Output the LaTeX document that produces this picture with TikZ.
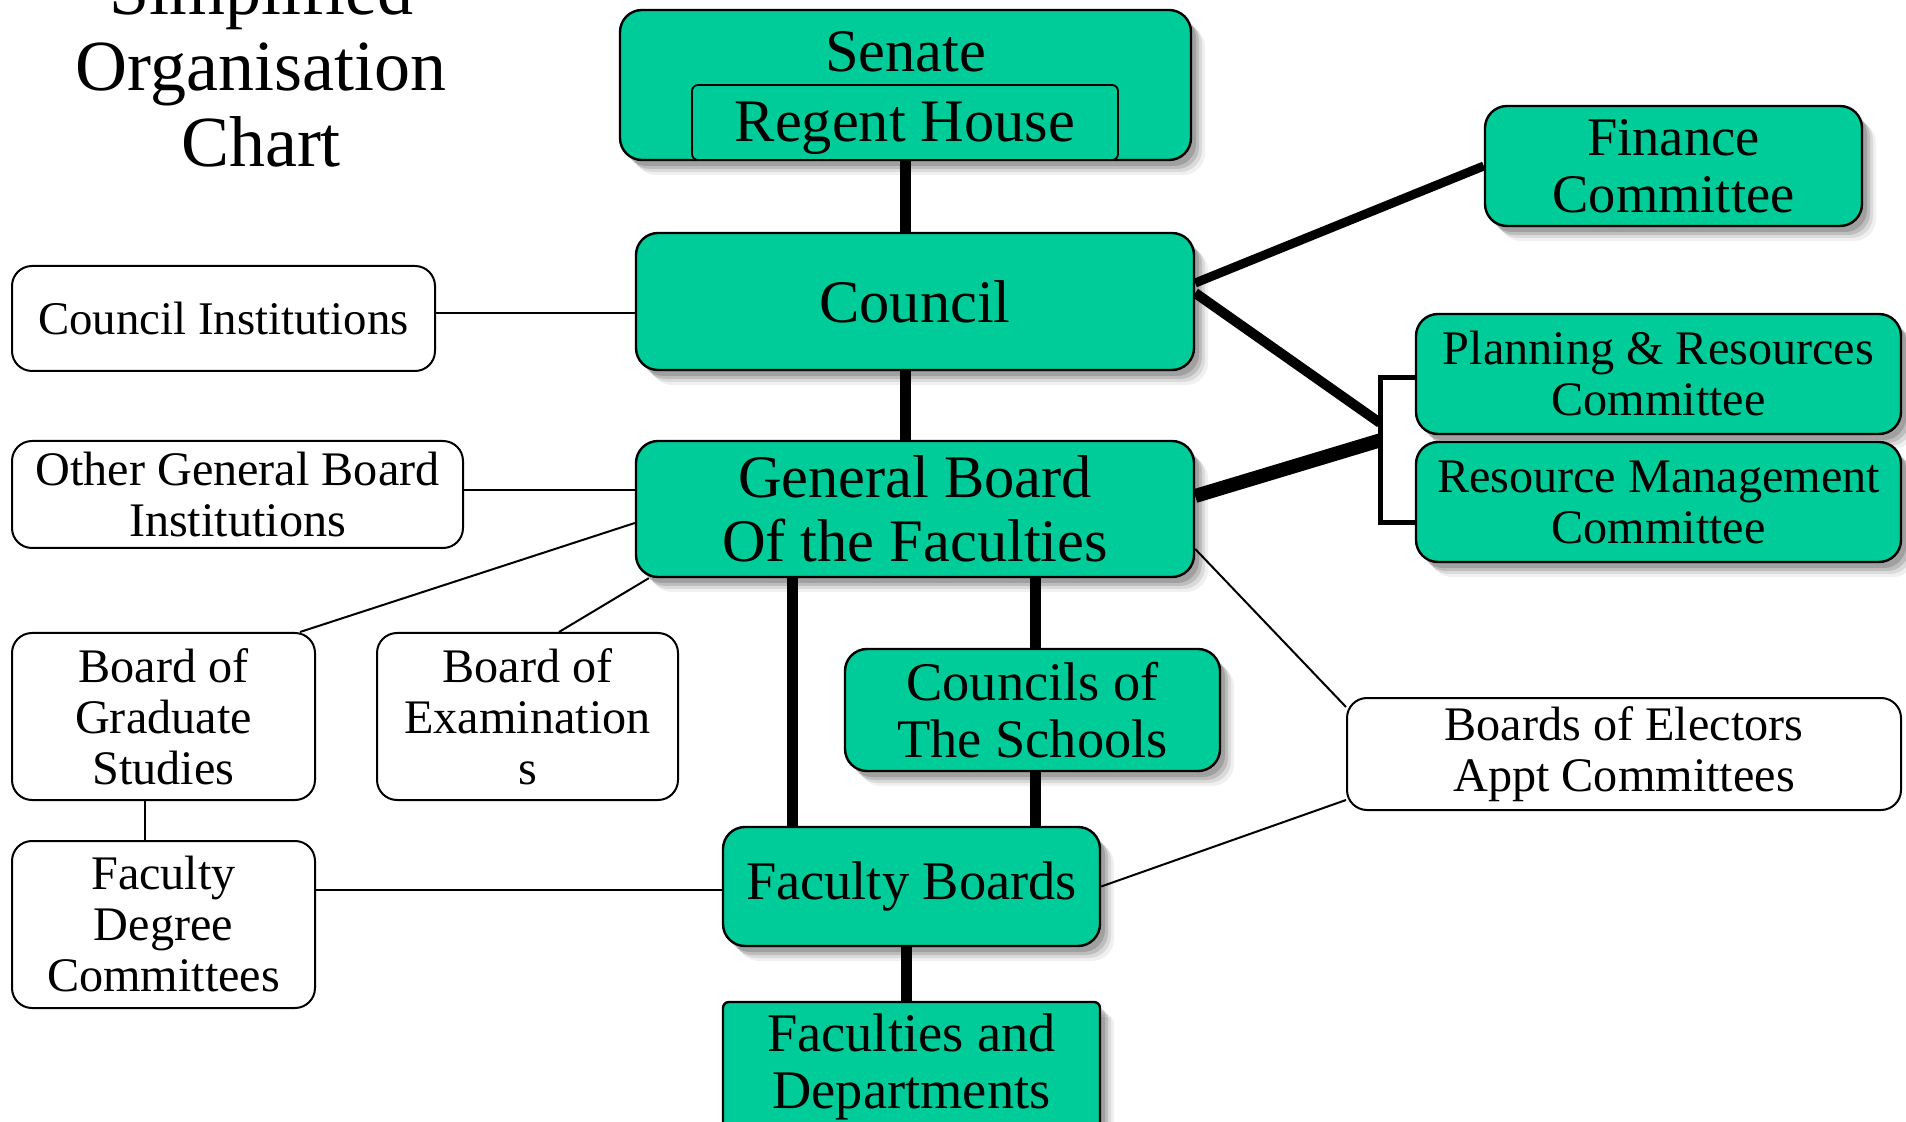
\documentclass[tikz,border=0pt]{standalone}
\usepackage{fontspec}
\setmainfont{Liberation Serif}
\usetikzlibrary{shadows,calc}
\definecolor{boxgreen}{RGB}{0,204,153}
\pgfdeclarelayer{back}
\pgfdeclarelayer{bg}
\pgfsetlayers{back,bg,main}
\newcommand{\myfs}[2]{\fontsize{#1pt}{#2pt}\selectfont}
\tikzset{
  softshadow/.style={
     drop shadow={shadow xshift=2.5pt, shadow yshift=-3pt, fill=black, opacity=.15},
     drop shadow={shadow xshift=4pt, shadow yshift=-4.5pt, fill=black, opacity=.13},
     drop shadow={shadow xshift=5.5pt, shadow yshift=-6pt, fill=black, opacity=.09},
     drop shadow={shadow xshift=7pt, shadow yshift=-7.5pt, fill=black, opacity=.06}},
  gbox/.style={draw=black, line width=1.2pt, fill=boxgreen, rounded corners=11pt, align=center, inner sep=0pt, softshadow},
  wbox/.style={draw=black, line width=1pt, fill=white, rounded corners=10pt, align=center, inner sep=0pt},
  thicklink/.style={line width=5.5pt, line cap=butt},
  thinlink/.style={line width=1pt},
  bigf/.style={font=\myfs{30.2}{32}},
  medf/.style={font=\myfs{27.2}{28.5}},
  smallf/.style={font=\myfs{24.1}{25.5}},
}
\begin{document}
\begin{tikzpicture}[x=0.5pt,y=-0.5pt]
\useasboundingbox (0,0) rectangle (1906,1122);
\begin{pgfonlayer}{back}
\fill[white] (0,0) rectangle (1906,1122);
\end{pgfonlayer}

\node[align=center, inner sep=0pt, anchor=south, font=\myfs{36}{38}] (title) at (261,168) {Simplified\\Organisation\\Chart};

\node[gbox, bigf, minimum width=285.5pt, minimum height=75pt, text height=20pt, text depth=33pt] (senate) at (905.5,85) {Senate};
\node[draw=black, line width=0.9pt, fill=boxgreen, rounded corners=3pt, inner sep=0pt, bigf, minimum width=213pt, minimum height=37.5pt, text height=24pt, text depth=4.5pt] (regent) at (905,122.5) {Regent House};

\node[gbox, bigf, minimum width=279pt, minimum height=68.5pt] (council) at (915,301.5) {Council};
\node[gbox, bigf, minimum width=279pt, minimum height=68pt] (genboard) at (915,509) {General Board\\Of the Faculties};

\node[gbox, medf, minimum width=188.5pt, minimum height=60pt] (finance) at (1673.5,166) {Finance\\Committee};
\node[gbox, smallf, minimum width=242.5pt, minimum height=60pt] (planning) at (1658.5,374) {Planning \& Resources\\Committee};
\node[gbox, smallf, minimum width=242.5pt, minimum height=60pt] (resource) at (1658.5,502) {Resource Management\\Committee};

\node[wbox, font=\myfs{23.4}{25}, minimum width=211.5pt, minimum height=52.5pt] (councilinst) at (223.5,318.5) {Council Institutions};
\node[wbox, smallf, minimum width=225.5pt, minimum height=53.5pt] (othergb) at (237.5,494.5) {Other General Board\\Institutions};
\node[wbox, smallf, minimum width=151.5pt, minimum height=83.5pt] (bgs) at (163.5,716.5) {Board of\\Graduate\\Studies};
\node[wbox, smallf, minimum width=150.5pt, minimum height=83.5pt] (bexam) at (527.5,716.5) {Board of\\Examination\\s};
\node[wbox, smallf, minimum width=151.5pt, minimum height=83.5pt] (fdc) at (163.5,924.5) {Faculty\\Degree\\Committees};
\node[wbox, smallf, minimum width=277pt, minimum height=56pt] (electors) at (1624,754) {Boards of Electors\\Appt Committees};

\node[gbox, medf, minimum width=187.5pt, minimum height=61pt] (councils) at (1032.5,710) {Councils of\\The Schools};
\node[gbox, medf, minimum width=188.5pt, minimum height=59.5pt] (facboards) at (911.5,886.5) {Faculty Boards};
\node[gbox, medf, rounded corners=3pt, minimum width=188.5pt, minimum height=65pt] (facdepts) at (911.5,1067) {Faculties and\\Departments};

\begin{pgfonlayer}{bg}
\draw[thicklink] (senate.south) -- (senate.south |- council.north);
\draw[thicklink] (council.south -| senate.south) -- (genboard.north -| senate.south);
\draw[thicklink, line width=4.5pt] (council.east |- 0,283) -- (finance.west);
\coordinate (brtop) at (1380,378);
\coordinate (brbot) at (1380,523);
\draw[thicklink, line width=5pt] (council.east |- 0,293) -- ($(brtop)!0.31!(brbot)$);
\draw[thicklink, line width=7pt] (genboard.east |- 0,496) -- ($(brtop)!0.43!(brbot)$);
\draw[line width=2.5pt] (planning.west |- brtop) -- (brtop) -- (brbot) -- (resource.west |- brbot);
\draw[thicklink] (genboard.south -| 792,0) -- (facboards.north -| 792,0);
\draw[thicklink] (genboard.south -| 1035,0) -- (councils.north -| 1035,0);
\draw[thicklink] (councils.south -| 1035,0) -- (facboards.north -| 1035,0);
\draw[thicklink] (facboards.south -| 906,0) -- (facdepts.north -| 906,0);

\draw[thinlink] (councilinst.east |- 0,313) -- (council.west |- 0,313);
\draw[thinlink] (othergb.east |- 0,490) -- (genboard.west |- 0,490);
\draw[thinlink] ($(bgs.north east)+(-16,0)$) -- (genboard.west |- 0,523);
\draw[thinlink] (559,0 |- bexam.north) -- ($(genboard.south west)+(14,0)$);
\draw[thinlink, line width=0.8pt] (145,0 |- bgs.south) -- (145,0 |- fdc.north);
\draw[thinlink] (fdc.east |- 0,890) -- (facboards.west |- 0,890);
\draw[thinlink] (genboard.east |- 0,549) -- (electors.west |- 0,707);
\draw[thinlink] (facboards.east) -- (electors.west |- 0,800);
\end{pgfonlayer}
\end{tikzpicture}
\end{document}
